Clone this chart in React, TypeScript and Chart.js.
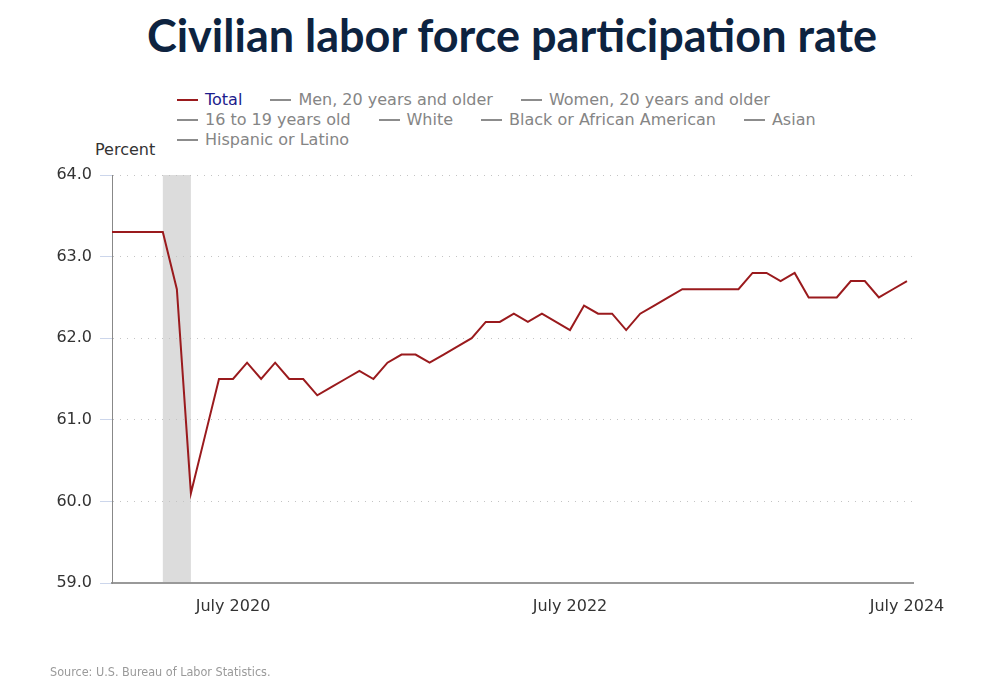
import React, { useEffect, useRef } from 'react';
import { Chart, registerables } from 'chart.js';

Chart.register(...registerables);

// Monthly categories (index on the x axis)
const monthLabels = [
  'Oct 2019', 'Nov 2019', 'Dec 2019',
  'Jan 2020', 'Feb 2020', 'Mar 2020', 'Apr 2020', 'May 2020', 'Jun 2020', 'Jul 2020', 'Aug 2020', 'Sep 2020', 'Oct 2020', 'Nov 2020', 'Dec 2020',
  'Jan 2021', 'Feb 2021', 'Mar 2021', 'Apr 2021', 'May 2021', 'Jun 2021', 'Jul 2021', 'Aug 2021', 'Sep 2021', 'Oct 2021', 'Nov 2021', 'Dec 2021',
  'Jan 2022', 'Feb 2022', 'Mar 2022', 'Apr 2022', 'May 2022', 'Jun 2022', 'Jul 2022', 'Aug 2022', 'Sep 2022', 'Oct 2022', 'Nov 2022', 'Dec 2022',
  'Jan 2023', 'Feb 2023', 'Mar 2023', 'Apr 2023', 'May 2023', 'Jun 2023', 'Jul 2023', 'Aug 2023', 'Sep 2023', 'Oct 2023', 'Nov 2023', 'Dec 2023',
  'Jan 2024', 'Feb 2024', 'Mar 2024', 'Apr 2024', 'May 2024', 'Jun 2024', 'Jul 2024',
];

// Civilian labor force participation rate (percent)
const rate2019 = [63.3, 63.3, 63.3];
const rate2020 = [63.3, 63.3, 62.6, 60.1, 60.8, 61.5, 61.5, 61.7, 61.5, 61.7, 61.5, 61.5];
const rate2021 = [61.3, 61.4, 61.5, 61.6, 61.5, 61.7, 61.8, 61.8, 61.7, 61.8, 61.9, 62.0];
const rate2022 = [62.2, 62.2, 62.3, 62.2, 62.3, 62.2, 62.1, 62.4, 62.3, 62.3, 62.1, 62.3];
const rate2023 = [62.4, 62.5, 62.6, 62.6, 62.6, 62.6, 62.6, 62.8, 62.8, 62.7, 62.8, 62.5];
const rate2024 = [62.5, 62.5, 62.7, 62.7, 62.5, 62.6, 62.7];

const xTickMonths = ['Jul 2020', 'Jul 2022', 'Jul 2024'];
const xTickLabels = ['July 2020', 'July 2022', 'July 2024'];
const recessionMonths = ['Feb 2020', 'Apr 2020'];
const yTickValues = [59, 60, 61, 62, 63, 64];

const legendRows = [
  ['Total', 'Men, 20 years and older', 'Women, 20 years and older'],
  ['16 to 19 years old', 'White', 'Black or African American', 'Asian'],
  ['Hispanic or Latino'],
];

const LINE_COLOR = '#9a1a1d';

const bandPlugin = {
  id: 'recessionBand',
  beforeDraw(chart: any) {
    const { ctx, chartArea, scales } = chart;
    const xs = scales.x;
    const x0 = xs.getPixelForValue(monthLabels.indexOf(recessionMonths[0]));
    const x1 = xs.getPixelForValue(monthLabels.indexOf(recessionMonths[1]));
    ctx.save();
    ctx.fillStyle = '#dcdcdc';
    ctx.fillRect(x0, chartArea.top, x1 - x0, chartArea.bottom - chartArea.top);
    ctx.restore();
  },
};

export default function App() {
  const canvasRef = useRef<HTMLCanvasElement | null>(null);

  useEffect(() => {
    if (!canvasRef.current) return;
    const values = [...rate2019, ...rate2020, ...rate2021, ...rate2022, ...rate2023, ...rate2024];
    const points = values.map((v, i) => ({ x: i, y: v }));

    const chart = new Chart(canvasRef.current, {
      type: 'line',
      data: {
        datasets: [
          {
            label: 'Total',
            data: points,
            borderColor: LINE_COLOR,
            backgroundColor: LINE_COLOR,
            borderWidth: 2,
            pointRadius: 0,
            tension: 0,
            fill: false,
          },
        ],
      },
      options: {
        responsive: false,
        animation: false,
        layout: { padding: { left: 0, right: 87, top: 175, bottom: 77 } },
        plugins: {
          legend: { display: false },
          tooltip: { enabled: false },
          title: { display: false },
        },
        scales: {
          x: {
            type: 'linear',
            min: 0.38,
            max: 57.43,
            afterFit: (s: any) => { s.height = 40; },
            afterBuildTicks: (s: any) => {
              s.ticks = xTickMonths.map((m) => ({ value: monthLabels.indexOf(m) }));
            },
            ticks: {
              autoSkip: false,
              maxRotation: 0,
              padding: 14,
              color: '#333333',
              font: { family: 'DejaVu Sans', size: 16 },
              callback: (v: any) => {
                const idx = xTickMonths.indexOf(monthLabels[Number(v)]);
                return idx >= 0 ? xTickLabels[idx] : '';
              },
            },
            grid: { drawOnChartArea: false, drawTicks: false },
            border: { color: '#999999', width: 2 },
          },
          y: {
            min: yTickValues[0],
            max: yTickValues[yTickValues.length - 1],
            afterFit: (s: any) => { s.width = 112; },
            afterBuildTicks: (s: any) => {
              s.ticks = yTickValues.map((v) => ({ value: v }));
            },
            ticks: {
              padding: 8,
              color: '#333333',
              font: { family: 'DejaVu Sans', size: 16 },
              callback: (v: any) => Number(v).toFixed(1),
            },
            grid: {
              color: '#c4c4c4',
              lineWidth: 1,
              tickColor: '#ccd6eb',
              tickLength: 12,
              tickWidth: 1,
            },
            border: { color: '#888888', width: 1, dash: [1, 6] },
          },
        },
      },
      plugins: [bandPlugin],
    } as any);

    return () => chart.destroy();
  }, []);

  return (
    <div
      style={{
        position: 'absolute',
        left: 0,
        top: 0,
        width: 1000,
        height: 700,
        background: '#ffffff',
        fontFamily: '"DejaVu Sans", Verdana, sans-serif',
        overflow: 'hidden',
      }}
    >
      <div
        style={{
          position: 'absolute',
          left: 12,
          top: 13,
          width: 1000,
          textAlign: 'center',
          fontFamily: 'Lato, "Open Sans", sans-serif',
          fontWeight: 700,
          fontSize: 45,
          lineHeight: '45px',
          color: '#0d2340',
          whiteSpace: 'nowrap',
        }}
      >
        Civilian labor force participation rate
      </div>

      <div style={{ position: 'absolute', left: 177, top: 90 }}>
        {legendRows.map((row, ri) => (
          <div key={ri} style={{ display: 'flex', height: 20, alignItems: 'center', whiteSpace: 'nowrap' }}>
            {row.map((name) => {
              const active = name === 'Total';
              return (
                <div key={name} style={{ display: 'flex', alignItems: 'center', marginRight: 28 }}>
                  <span
                    style={{
                      display: 'inline-block',
                      width: 21,
                      height: 2,
                      background: active ? LINE_COLOR : '#8c8c8c',
                      marginRight: 7,
                    }}
                  />
                  <span style={{ fontSize: 16, lineHeight: '20px', color: active ? '#1c1c8c' : '#858585' }}>{name}</span>
                </div>
              );
            })}
          </div>
        ))}
      </div>

      <div style={{ position: 'absolute', left: 95, top: 140, fontSize: 16, lineHeight: '20px', color: '#333333' }}>
        Percent
      </div>

      <canvas ref={canvasRef} width={1000} height={700} style={{ position: 'absolute', left: 0, top: 0, display: 'block' }} />

      <div
        style={{
          position: 'absolute',
          left: 50,
          top: 664,
          fontSize: 12.5,
          lineHeight: '16px',
          color: '#9a9a9a',
          fontFamily: '"DejaVu Sans Condensed", "DejaVu Sans", sans-serif',
          fontStretch: 'condensed',
        }}
      >
        Source: U.S. Bureau of Labor Statistics.
      </div>
    </div>
  );
}
